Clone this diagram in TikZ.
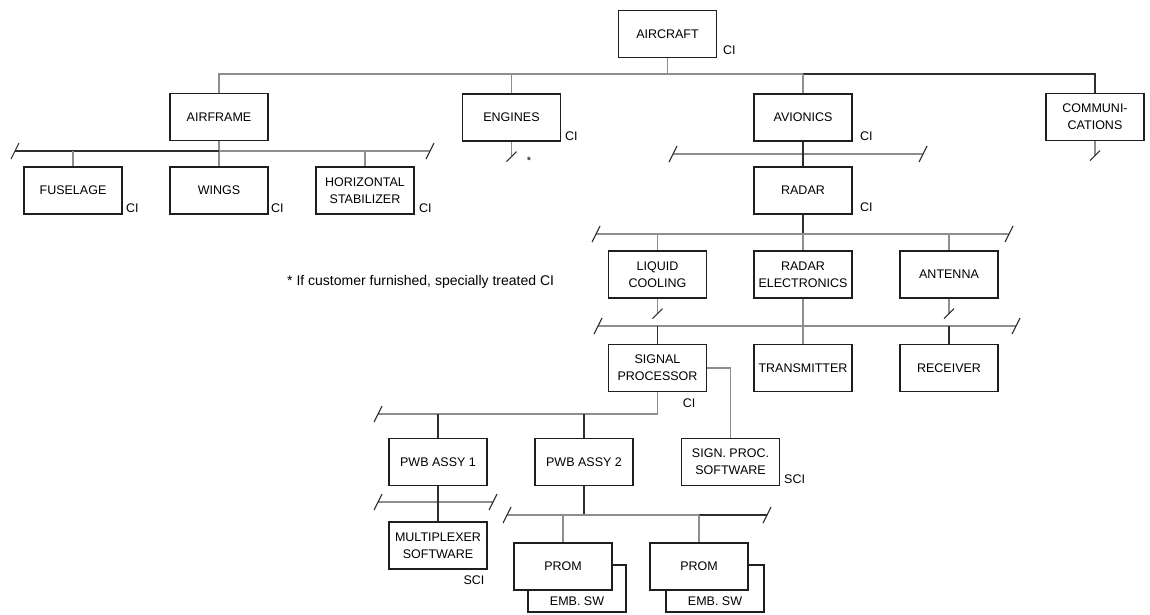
\documentclass[tikz,border=0pt]{standalone}
\usepackage{fontspec}
\setmainfont{Liberation Sans}
\definecolor{boxc}{HTML}{1E1E1E}
\definecolor{lgray}{HTML}{8E8E8E}
\definecolor{dgray}{HTML}{2E2E2E}
% short cut marks at the open end of a bus or a branch
\newcommand\busend[1]{\draw[cut] ([shift={(-4,8)}]#1) -- ([shift={(4,-8)}]#1);}
\newcommand\dropcut[1]{\draw[cut] ([shift={(-5,5)}]#1) -- ([shift={(5,-5)}]#1);}
\begin{document}
\begin{tikzpicture}[x=1pt,y=-1pt,
  box/.style={draw=boxc, line width=1.2pt, fill=white, minimum width=98pt,
    minimum height=47pt, inner sep=0pt, align=center,
    font=\fontsize{12.5}{17}\selectfont},
  lbl/.style={inner sep=0pt, anchor=west, font=\fontsize{12.5}{15}\selectfont},
  conn/.style={draw=lgray, line width=1.1pt},
  connd/.style={draw=dgray, line width=1.1pt},
  cut/.style={draw=dgray, line width=1.1pt}]
\useasboundingbox (0,0) rectangle (1150,614);
\fill[white] (0,0) rectangle (1150,614);

% boxes
\node[box] (aircraft) at (667.5,34) {AIRCRAFT};
\node[box] (airframe) at (219,117) {AIRFRAME};
\node[box] (engines) at (511.5,117.5) {ENGINES};
\node[box] (avionics) at (803,117.5) {AVIONICS};
\node[box] (comm) at (1095,117) {COMMUNI-\\CATIONS};
\node[box] (fuselage) at (73,190.5) {FUSELAGE};
\node[box] (wings) at (219,190.5) {WINGS};
\node[box] (hstab) at (365,190.5) {HORIZONTAL\\STABILIZER};
\node[box] (radar) at (803,190.5) {RADAR};
\node[box] (lcool) at (657.5,274.5) {LIQUID\\COOLING};
\node[box] (relec) at (803,274.5) {RADAR\\ELECTRONICS};
\node[box] (antenna) at (949,274.5) {ANTENNA};
\node[box] (sigproc) at (657.5,368) {SIGNAL\\PROCESSOR};
\node[box] (transm) at (803,368) {TRANSMITTER};
\node[box] (receiver) at (949,368) {RECEIVER};
\node[box] (pwb1) at (438,462) {PWB ASSY 1};
\node[box] (pwb2) at (584,462) {PWB ASSY 2};
\node[box] (spsw) at (730.5,462) {SIGN. PROC.\\SOFTWARE};
\node[box] (mux) at (438,545.5) {MULTIPLEXER\\SOFTWARE};
\node[box] (emb1) at (577,588.5) {};
\node[box] (prom1) at (563,566.5) {PROM};
\node[lbl, anchor=center] (emb1t) at (577,601) {EMB. SW};
\node[box] (emb2) at (715,588.5) {};
\node[box] (prom2) at (699,566.5) {PROM};
\node[lbl, anchor=center] (emb2t) at (715,601) {EMB. SW};

% bus levels and open ends
\coordinate (tb) at (0,74);
\coordinate (afL) at (15,151);
\coordinate (afR) at (430,151);
\coordinate (avL) at (673,154);
\coordinate (avR) at (923,154);
\coordinate (rbL) at (596,234);
\coordinate (rbR) at (1009,234);
\coordinate (sbL) at (598,326);
\coordinate (sbR) at (1016,326);
\coordinate (pbL) at (378,414);
\coordinate (p1L) at (378,502);
\coordinate (p1R) at (493,502);
\coordinate (p2L) at (507,515);
\coordinate (p2R) at (767,515);
\coordinate (engcut) at ([yshift=-15pt]engines.south);
\coordinate (comcut) at ([yshift=-14.5pt]comm.south);
\coordinate (lccut) at ([yshift=-15pt]lcool.south);
\coordinate (ancut) at ([yshift=-15pt]antenna.south);

% aircraft level
\draw[conn] (aircraft.south) -- (aircraft.south |- tb);
\draw[conn] (airframe.north) |- (avionics.north |- tb);
\draw[connd] (avionics.north |- tb) -| (comm.north);
\draw[conn] (engines.north) -- (engines.north |- tb);
\draw[conn] (avionics.north) -- (avionics.north |- tb);

% airframe branch
\draw[conn] (airframe.south) -- (wings.north);
\draw[connd] (afL) -- (airframe.south |- afL);
\draw[conn] (airframe.south |- afL) -- (afR);
\draw[conn] (fuselage.north |- afL) -- (fuselage.north);
\draw[conn] (hstab.north |- afL) -- (hstab.north);
\busend{afL}
\busend{afR}

% engines and communications
\draw[conn] (engines.south) -- (engcut);
\dropcut{engcut}
\draw[conn] (comm.south) -- (comcut);
\dropcut{comcut}

% avionics branch
\draw[conn] (avL) -- (avR);
\busend{avL}
\busend{avR}
\draw[connd] (avionics.south) -- (radar.north);

% radar branch
\draw[connd] (radar.south) -- (radar.south |- rbL);
\draw[conn] (rbL) -- (rbR);
\busend{rbL}
\busend{rbR}
\draw[conn] (lcool.north |- rbL) -- (lcool.north);
\draw[conn] (relec.north |- rbL) -- (relec.north);
\draw[conn] (antenna.north |- rbL) -- (antenna.north);
\draw[conn] (lcool.south) -- (lccut);
\dropcut{lccut}
\draw[conn] (antenna.south) -- (ancut);
\dropcut{ancut}

% radar electronics branch
\draw[conn] (sbL) -- (sbR);
\busend{sbL}
\busend{sbR}
\draw[conn] (relec.south) -- (transm.north);
\draw[connd] (sigproc.north |- sbL) -- (sigproc.north);
\draw[connd] (receiver.north |- sbL) -- (receiver.north);

% signal processor branch
\draw[conn] (sigproc.east) -| (spsw.north);
\draw[conn] (sigproc.south) |- (pbL);
\busend{pbL}
\draw[connd] (pwb1.north |- pbL) -- (pwb1.north);
\draw[connd] (pwb2.north |- pbL) -- (pwb2.north);

% PWB assemblies
\draw[conn] (p1L) -- (p1R);
\busend{p1L}
\busend{p1R}
\draw[connd] (pwb1.south) -- (mux.north);
\draw[connd] (pwb2.south) -- (pwb2.south |- p2L);
\draw[conn] (p2L) -- (prom2.north |- p2L);
\draw[connd] (prom2.north |- p2L) -- (p2R);
\busend{p2L}
\busend{p2R}
\draw[conn] (prom1.north |- p2L) -- (prom1.north);
\draw[conn] (prom2.north |- p2L) -- (prom2.north);

% item markings
\node[lbl] (ci1) at (723,50) {CI};
\node[lbl] (ci2) at (126,208) {CI};
\node[lbl] (ci3) at (271,208) {CI};
\node[lbl] (ci4) at (419,208) {CI};
\node[lbl] (ci5) at (565,136) {CI};
\node[lbl] (ci6) at (860,136) {CI};
\node[lbl] (ci7) at (860,207) {CI};
\node[lbl, anchor=center] (ci8) at (689,403) {CI};
\node[lbl] (sci1) at (784,479) {SCI};
\node[lbl, anchor=center] (sci2) at (474,580) {SCI};
\node[inner sep=0pt, font=\fontsize{11}{11}\selectfont] (star) at (529,161) {*};
\node[inner sep=0pt, anchor=base west, font=\fontsize{14}{16}\selectfont] (note)
  at (287,285) {* If customer furnished, specially treated CI};
\end{tikzpicture}
\end{document}
